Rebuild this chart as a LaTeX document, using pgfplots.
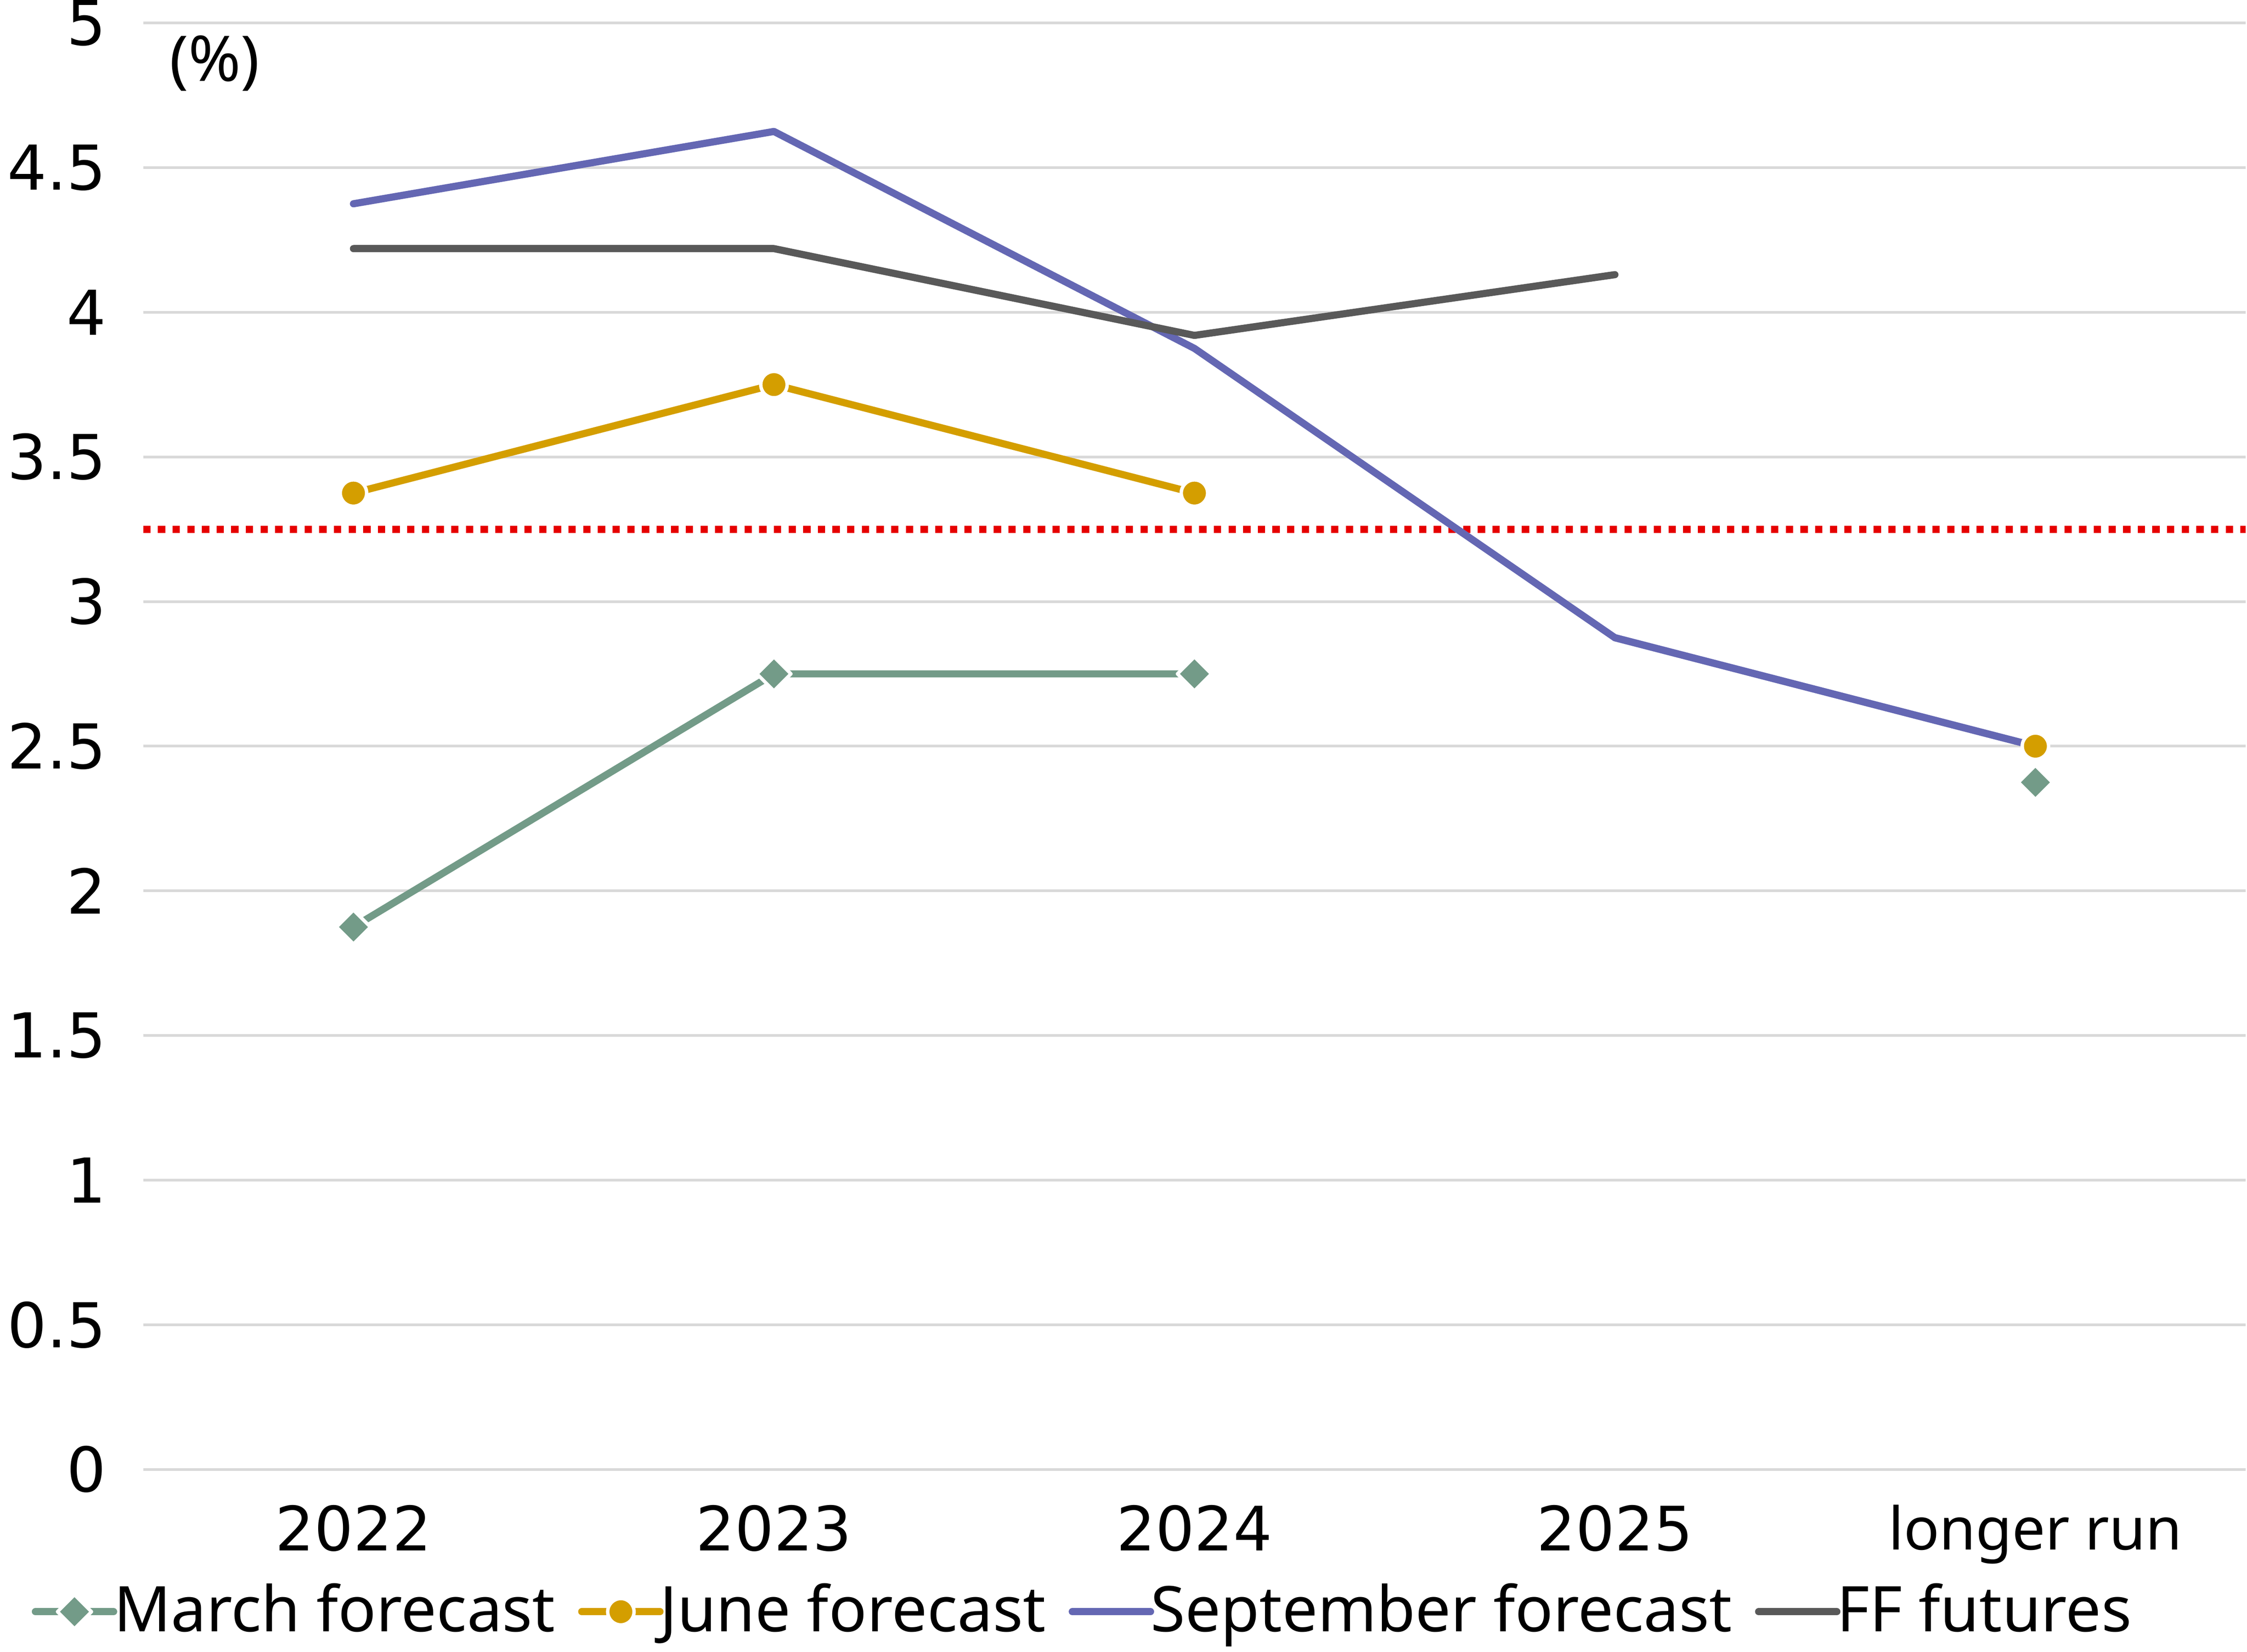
\documentclass[border=0pt]{standalone}
\usepackage{fontspec}
\setmainfont{Noto Sans}
\newfontfamily\numfont{DejaVu Sans}
\usepackage{pgfplots}
\pgfplotsset{compat=1.18}

\definecolor{march}{HTML}{739B88}
\definecolor{june}{HTML}{D49E00}
\definecolor{sept}{HTML}{6467B3}
\definecolor{ff}{HTML}{595959}
\definecolor{gridc}{HTML}{D9D9D9}

\newcommand{\yr}[1]{{\numfont\fontsize{10.7}{12}\selectfont #1}}

\begin{document}
\begin{tikzpicture}
\begin{axis}[
    name=ax,
    scale only axis,
    width=367pt, height=252.5pt,
    xmin=-0.5, xmax=4.5,
    ymin=0, ymax=5,
    ytick={0,0.5,...,5},
    xtick={0,1,2,3,4},
    xticklabels={\yr{2022},\yr{2023},\yr{2024},\yr{2025},longer run},
    axis line style={draw=none},
    major tick length=0pt,
    ymajorgrids,
    grid style={gridc, line width=0.47pt},
    /pgf/number format/assume math mode=true,
    font=\fontsize{11}{13}\selectfont,
    yticklabel style={font=\numfont\fontsize{10.8}{12}\selectfont, inner sep=0pt, xshift=-6.3pt},
    xticklabel style={font=\fontsize{10.3}{12}\selectfont, inner sep=0pt, yshift=-6pt},
    legend columns=-1,
    legend style={draw=none, fill=none,
        at={(-0.0617,-0.07)}, anchor=north west,
        font=\fontsize{11}{13}\selectfont,
        nodes={inner xsep=0pt, inner ysep=0pt},
        /tikz/every odd column/.append style={column sep=-0.6pt},
        /tikz/every even column/.append style={column sep=4pt}},
    legend image code/.code={
        \draw[mark repeat=2,mark phase=2,#1] plot coordinates {(0cm,0cm) (0.24cm,0cm) (0.48cm,0cm)};},
    every axis plot/.append style={line cap=round, line join=round},
]
% reference level
\addplot[color={rgb,255:red,230;green,0;blue,0}, line width=1.25pt, line cap=butt, dash pattern=on 1.28pt off 1.28pt, forget plot]
    coordinates {(-0.5,3.25) (4.5,3.25)};

\addplot[march, line width=1.25pt, mark=square*,
    mark options={solid, rotate=45, fill=march, draw=white, line width=0.6pt, mark size=2.1pt}]
    coordinates {(0,1.875) (1,2.75) (2,2.75)};
\addlegendentry{March forecast}
\addplot[june, line width=1.25pt, mark=*,
    mark options={solid, fill=june, draw=white, line width=0.6pt, mark size=2.3pt}]
    coordinates {(0,3.375) (1,3.75) (2,3.375)};
\addlegendentry{June forecast}
\addplot[sept, line width=1.25pt]
    coordinates {(0,4.375) (1,4.625) (2,3.875) (3,2.875) (4,2.5)};
\addlegendentry{September forecast}
\addplot[ff, line width=1.25pt]
    coordinates {(0,4.22) (1,4.22) (2,3.92) (3,4.13)};
\addlegendentry{FF futures}

% longer-run points
\addplot[only marks, mark=square*, mark options={rotate=45, fill=march, draw=white, line width=0.6pt, mark size=2.1pt}, forget plot]
    coordinates {(4,2.375)};
\addplot[only marks, mark=*, mark options={fill=june, draw=white, line width=0.6pt, mark size=2.3pt}, forget plot]
    coordinates {(4,2.5)};
\addplot[sept, line width=1.25pt, forget plot]
    coordinates {(3,2.875) (4,2.5)};

\node[anchor=center] at (axis description cs:0.034,0.972) {(\%)};
\end{axis}
% left margin as in the reference
\path ([xshift=-25pt]ax.south west);
\end{tikzpicture}
\end{document}
